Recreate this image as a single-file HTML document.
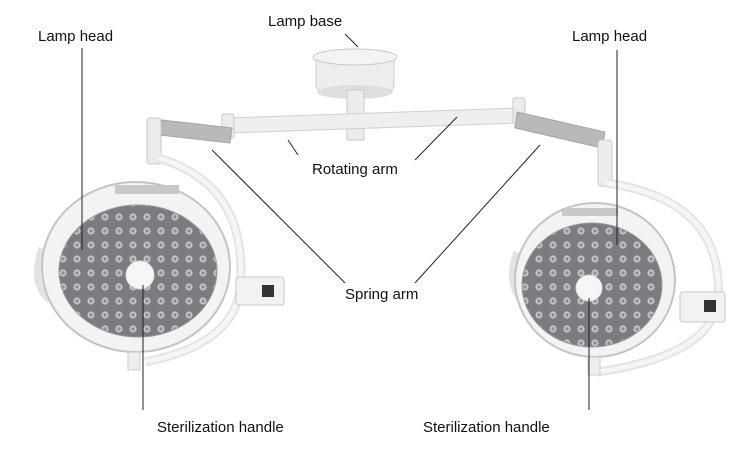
<!DOCTYPE html>
<html><head><meta charset="utf-8"><style>
html,body{margin:0;padding:0;background:#fff}
svg{display:block}
text{font-family:"Liberation Sans",sans-serif;font-size:15px;fill:#111}
</style></head><body>
<svg width="750" height="450" viewBox="0 0 750 450" xmlns="http://www.w3.org/2000/svg">
<defs>
<pattern id="led" width="14" height="14" patternUnits="userSpaceOnUse">
<rect width="14" height="14" fill="#7b7b80"/>
<circle cx="7" cy="7" r="3.6" fill="#c4c4c7"/>
<circle cx="7" cy="7" r="1.7" fill="#909095"/>
</pattern>
</defs>
<!-- base -->
<rect x="316" y="55" width="78" height="36" rx="6" fill="#eeeeee" stroke="#c8c8c8"/>
<ellipse cx="355" cy="57" rx="42" ry="8" fill="#f4f4f4" stroke="#c8c8c8"/>
<ellipse cx="355" cy="92" rx="38" ry="7" fill="#dedede"/>
<rect x="347" y="90" width="17" height="50" fill="#ececec" stroke="#c8c8c8"/>
<!-- rotating arm -->
<polygon points="228,118 520,108 520,123 228,133" fill="#efefef" stroke="#cfcfcf"/>
<rect x="222" y="114" width="12" height="24" rx="2" fill="#ececec" stroke="#c8c8c8"/>
<rect x="513" y="98" width="12" height="26" rx="2" fill="#ececec" stroke="#c8c8c8"/>
<!-- spring arms -->
<polygon points="162,120 232,128 230,143 160,135" fill="#b9b9bc" stroke="#a5a5a8"/>
<polygon points="517,112 605,132 602,148 515,128" fill="#b9b9bc" stroke="#a5a5a8"/>
<rect x="147" y="118" width="14" height="46" rx="3" fill="#ececec" stroke="#c8c8c8"/>
<rect x="598" y="140" width="14" height="46" rx="3" fill="#ececec" stroke="#c8c8c8"/>
<!-- left lamp yoke -->
<path d="M158,158 Q250,185 240,290 Q232,345 145,362" fill="none" stroke="#e4e4e4" stroke-width="9"/>
<path d="M158,158 Q250,185 240,290 Q232,345 145,362" fill="none" stroke="#f5f5f5" stroke-width="5"/>
<rect x="236" y="277" width="48" height="28" rx="3" fill="#f2f2f2" stroke="#c8c8c8"/>
<rect x="262" y="285" width="12" height="12" fill="#333"/>
<path d="M42,248 Q30,285 50,300" fill="none" stroke="#e3e3e3" stroke-width="7"/>
<ellipse cx="136" cy="267" rx="94" ry="85" fill="#f3f3f3" stroke="#c4c4c4" stroke-width="2"/>
<rect x="115" y="185" width="64" height="9" fill="#c8c8c8"/>
<ellipse cx="138" cy="271" rx="79" ry="66" fill="url(#led)" stroke="#999" />
<circle cx="140" cy="275" r="14" fill="#f6f6f6" stroke="#ddd"/>
<rect x="128" y="352" width="12" height="18" fill="#eee" stroke="#ccc"/>
<!-- right lamp yoke -->
<path d="M606,183 Q725,200 718,300 Q712,355 598,372" fill="none" stroke="#e4e4e4" stroke-width="9"/>
<path d="M606,183 Q725,200 718,300 Q712,355 598,372" fill="none" stroke="#f5f5f5" stroke-width="5"/>
<rect x="680" y="292" width="45" height="30" rx="3" fill="#f2f2f2" stroke="#c8c8c8"/>
<rect x="704" y="300" width="12" height="12" fill="#333"/>
<path d="M517,252 Q505,285 525,305" fill="none" stroke="#e3e3e3" stroke-width="7"/>
<ellipse cx="595" cy="280" rx="80" ry="77" fill="#f3f3f3" stroke="#c4c4c4" stroke-width="2"/>
<rect x="562" y="208" width="56" height="8" fill="#c8c8c8"/>
<ellipse cx="592" cy="285" rx="70" ry="62" fill="url(#led)" stroke="#999"/>
<circle cx="589" cy="288" r="13" fill="#f6f6f6" stroke="#ddd"/>
<rect x="588" y="357" width="12" height="18" fill="#eee" stroke="#ccc"/>
<!-- leader lines -->
<g stroke="#222" stroke-width="1" fill="none">
<line x1="82" y1="48" x2="82" y2="250"/>
<line x1="345" y1="34" x2="358" y2="47"/>
<line x1="617" y1="50" x2="617" y2="245"/>
<line x1="288" y1="140" x2="298" y2="155"/>
<line x1="457" y1="117" x2="415" y2="160"/>
<line x1="212" y1="150" x2="345" y2="283"/>
<line x1="540" y1="145" x2="415" y2="283"/>
<line x1="143" y1="285" x2="143" y2="410"/>
<line x1="589" y1="298" x2="589" y2="410"/>
</g>
<text x="38" y="41">Lamp head</text>
<text x="268" y="26">Lamp base</text>
<text x="572" y="41">Lamp head</text>
<text x="312" y="174">Rotating arm</text>
<text x="345" y="299">Spring arm</text>
<text x="157" y="432">Sterilization handle</text>
<text x="423" y="432">Sterilization handle</text>
</svg>
</body></html>
